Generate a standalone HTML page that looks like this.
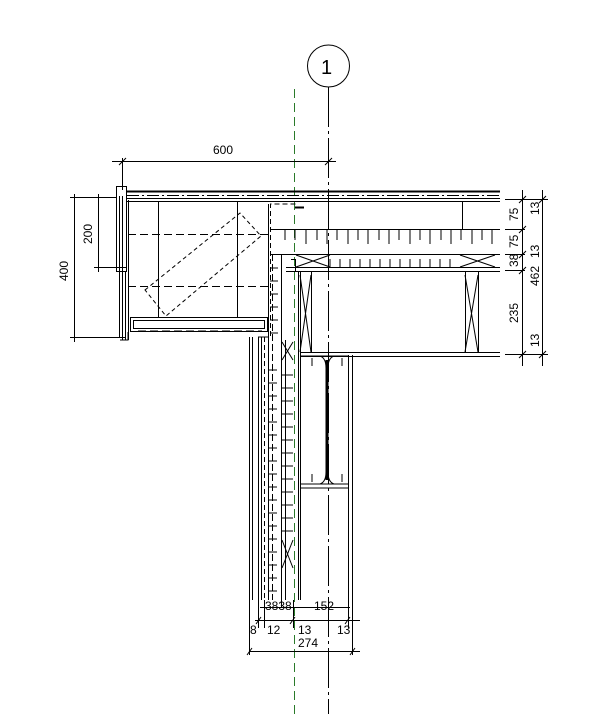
<!DOCTYPE html>
<html><head><style>
body{margin:0;background:#fff}
svg{display:block}
text{font-family:"Liberation Sans",sans-serif;font-size:12px;fill:#000}
</style></head><body>
<svg width="609" height="714" viewBox="0 0 609 714" xmlns="http://www.w3.org/2000/svg" stroke="#000" fill="none" stroke-width="1">
<circle cx="328.5" cy="66" r="21"/>
<text x="321" y="74" style="font-size:20px" stroke="none">1</text>
<line x1="328.5" y1="87" x2="328.5" y2="714" stroke-dasharray="40,4,3,4"/>
<line x1="294.5" y1="89" x2="294.5" y2="714" stroke="#2a7a2a" stroke-dasharray="9,5"/>

<line x1="112" y1="161.5" x2="336" y2="161.5"/>
<line x1="122.5" y1="158" x2="122.5" y2="190"/>
<line x1="119" y1="165" x2="126" y2="158"/>
<line x1="325" y1="165" x2="332" y2="158"/>
<text x="213" y="154" stroke="none">600</text>

<line x1="70" y1="197.5" x2="116" y2="197.5"/>
<line x1="94" y1="267.5" x2="126" y2="267.5"/>
<line x1="70" y1="337.5" x2="126" y2="337.5"/>
<line x1="74.5" y1="194" x2="74.5" y2="342"/>
<line x1="98.5" y1="194" x2="98.5" y2="272"/>
<text transform="translate(68,281) rotate(-90)" stroke="none">400</text>
<text transform="translate(92,244) rotate(-90)" stroke="none">200</text>

<rect x="116.5" y="186.5" width="10" height="85"/>
<line x1="119.5" y1="196" x2="119.5" y2="338"/>
<line x1="122.5" y1="196" x2="122.5" y2="340"/>
<line x1="125.5" y1="271" x2="125.5" y2="340"/>
<line x1="128.5" y1="200" x2="128.5" y2="340"/>
<path d="M120 340 h8 v-8"/>

<line x1="127" y1="191.5" x2="500" y2="191.5" stroke-width="2"/>
<line x1="127" y1="195.5" x2="500" y2="195.5" stroke-dasharray="12,3,2,3"/>
<line x1="127" y1="198.5" x2="500" y2="198.5"/>
<line x1="127" y1="201.5" x2="500" y2="201.5"/>

<line x1="158.5" y1="202" x2="158.5" y2="317"/>
<line x1="237.5" y1="202" x2="237.5" y2="317"/>
<line x1="128" y1="234.5" x2="268" y2="234.5" stroke-dasharray="8,4"/>
<line x1="128" y1="286.5" x2="268" y2="286.5" stroke-dasharray="8,4"/>
<path d="M145 290 L240 213 L261 236 L166 316 Z" stroke-dasharray="4,3"/>
<rect x="130.5" y="317.5" width="137" height="14"/>
<rect x="133.5" y="320.5" width="131" height="8"/>
<line x1="138" y1="331" x2="262" y2="331" stroke-dasharray="8,4"/>

<path d="M270.5 336 V204 H298" stroke-dasharray="5,3"/>
<line x1="268.5" y1="204" x2="268.5" y2="600"/>
<line x1="281.5" y1="254" x2="281.5" y2="600"/>
<line x1="272.5" y1="254" x2="272.5" y2="600" stroke-dasharray="7,3"/>
<path d="M270 268h8 M270 281h8 M270 294h8 M270 307h8 M270 320h8 M270 333h8"/>
<line x1="295" y1="207.5" x2="304" y2="207.5" stroke-width="2"/>

<line x1="270" y1="229.5" x2="500" y2="229.5"/>
<line x1="270" y1="254.5" x2="500" y2="254.5"/>
<line x1="286" y1="267.5" x2="500" y2="267.5"/>
<line x1="286" y1="271.5" x2="500" y2="271.5"/>
<line x1="462.5" y1="202" x2="462.5" y2="229"/>
<path d="M285 230v10 M295 230v10 M306 230v14 M317 230v10 M327 230v14 M337 230v10 M348 230v14 M358 230v10 M368 230v14 M379 230v10 M389 230v14 M399 230v10 M410 230v14 M420 230v10 M430 230v14 M441 230v10 M451 230v14 M461 230v10 M472 230v14 M482 230v10 M492 230v14"/>
<path d="M296 255 L330 267 M296 267 L330 255 M460 255 L495 267 M460 267 L495 255"/>
<path d="M330 267v-8 M340 267v-8 M350 267v-8 M360 267v-8 M370 267v-8 M380 267v-8 M390 267v-8 M400 267v-8 M410 267v-8 M420 267v-8 M430 267v-8 M440 267v-8 M450 267v-8"/>
<line x1="295.5" y1="259" x2="295.5" y2="272"/>
<line x1="291" y1="259.5" x2="296" y2="259.5"/>

<line x1="298.5" y1="272" x2="298.5" y2="600"/>
<line x1="300.5" y1="272" x2="300.5" y2="600"/>
<line x1="311.5" y1="272" x2="311.5" y2="352"/>
<path d="M300 275 L311 352 M311 275 L300 352"/>
<line x1="465.5" y1="272" x2="465.5" y2="352"/>
<line x1="478.5" y1="272" x2="478.5" y2="352"/>
<path d="M465 275 L478 352 M478 275 L465 352"/>
<line x1="300" y1="352.5" x2="500" y2="352.5"/>
<line x1="300" y1="356.5" x2="500" y2="356.5"/>

<line x1="249.5" y1="337" x2="249.5" y2="600"/>
<line x1="252.5" y1="337" x2="252.5" y2="600"/>
<line x1="258.5" y1="337" x2="258.5" y2="600"/>
<line x1="261.5" y1="337" x2="261.5" y2="600"/>
<line x1="264.5" y1="337" x2="264.5" y2="600" stroke-dasharray="5,3"/>
<path d="M258 337h10"/>
<line x1="285.5" y1="340" x2="285.5" y2="600"/>
<path d="M282 342 L293 360 M293 342 L282 360 M282 540 L293 568 M293 540 L282 568"/>
<path d="M268 370h9 M268 383h9 M268 396h9 M268 409h9 M268 422h9 M268 435h9 M268 448h9 M268 461h9 M268 474h9 M268 487h9 M268 500h9 M268 513h9 M268 526h9 M268 539h9 M268 552h9 M268 565h9 M268 578h9 M268 591h9"/>
<path d="M282 375h11 M282 388h11 M282 401h11 M282 414h11 M282 427h11 M282 440h11 M282 453h11 M282 466h11 M282 479h11 M282 492h11 M282 505h11 M282 518h11 M282 531h11"/>

<line x1="348.5" y1="355" x2="348.5" y2="600"/>
<line x1="352.5" y1="355" x2="352.5" y2="600"/>
<path d="M300 356h48 M300 484h48 M300 488h48" />
<line x1="327" y1="360" x2="327" y2="480" stroke-width="3"/>
<path d="M320 356 q6 2 6 12 M334 356 q-6 2 -6 12 M320 484 q6 -2 6 -12 M334 484 q-6 -2 -6 -12"/>
<path d="M312 358v8 M342 358v8 M312 474v8 M342 474v8"/>

<path d="M249.5 600v55 M258.5 600v28 M264.5 600v28 M281.5 600v8 M293.5 600v28 M348.5 600v28 M352.5 600v55"/>
<line x1="255" y1="620.5" x2="360" y2="620.5"/>
<line x1="250" y1="651.5" x2="360" y2="651.5"/>
<line x1="260" y1="607.5" x2="350" y2="607.5"/>
<text x="265" y="610" stroke="none">3838</text>
<text x="314" y="610" stroke="none">152</text>
<text x="250" y="634" stroke="none">8</text>
<text x="267" y="634" stroke="none">12</text>
<text x="298" y="634" stroke="none">13</text>
<text x="337" y="634" stroke="none">13</text>
<text x="298" y="647" stroke="none">274</text>
<path d="M256 624l5-7 M290 624l5-7 M345 624l5-7 M247 655l5-7 M350 655l5-7"/>

<path d="M505 199.5h43 M505 229.5h20 M505 254.5h20 M505 270.5h20 M505 354.5h43"/>
<line x1="522.5" y1="190" x2="522.5" y2="366"/>
<line x1="542.5" y1="190" x2="542.5" y2="366"/>
<path d="M519 203l7-7 M519 233l7-7 M519 258l7-7 M519 274l7-7 M519 358l7-7 M539 203l7-7 M539 358l7-7"/>
<text transform="translate(518,221) rotate(-90)" stroke="none">75</text>
<text transform="translate(518,248) rotate(-90)" stroke="none">75</text>
<text transform="translate(518,267) rotate(-90)" stroke="none">38</text>
<text transform="translate(518,323) rotate(-90)" stroke="none">235</text>
<text transform="translate(539,215) rotate(-90)" stroke="none">13</text>
<text transform="translate(539,258) rotate(-90)" stroke="none">13</text>
<text transform="translate(539,286) rotate(-90)" stroke="none">462</text>
<text transform="translate(539,347) rotate(-90)" stroke="none">13</text>
</svg>
</body></html>
